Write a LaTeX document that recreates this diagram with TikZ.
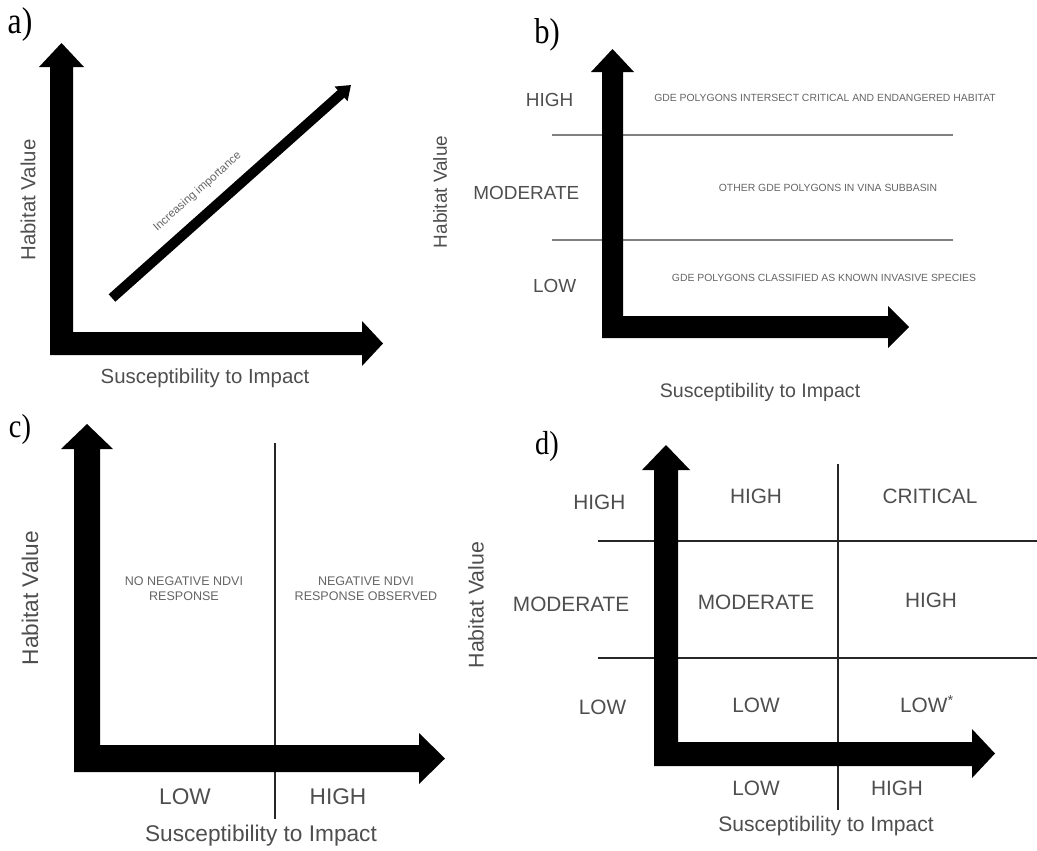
\documentclass[tikz,border=0pt]{standalone}
\usepackage{fontspec}
\setmainfont{Liberation Sans}
\newfontfamily\panelfont{Liberation Serif}
\usetikzlibrary{arrows.meta}

\definecolor{labelgray}{RGB}{78,78,78}
\definecolor{notegray}{RGB}{100,100,100}
\definecolor{gridgray}{RGB}{128,128,128}

\tikzset{bigaxis/.style={fill=black}}
\tikzset{panel/.style={xscale=0.85,font=\panelfont\fontsize{#1}{#1}\selectfont}}
\tikzset{lab/.style={text=labelgray,font=\fontsize{#1}{#1}\selectfont}}
\tikzset{note/.style={text=notegray,align=center,font=\fontsize{#1}{11.25}\selectfont}}
\tikzset{sep/.style={gridgray,line width=1pt}}
\tikzset{divider/.style={black!85,line width=0.8pt}}
\tikzset{diag/.style={line width=7.5pt,-{Triangle[length=10pt,width=14pt]}}}

\begin{document}
\begin{tikzpicture}[x=0.75pt,y=-0.75pt]
        \useasboundingbox (0,0) rectangle (1037,850);

        % panel a
        \node[panel=28] (pa) at (20,25) {a)};
        \fill[bigaxis] (50,355) -- (50,67) -- (39,67) -- (61.5,43) -- (84,67) -- (73,67) -- (73,332)
            -- (362,332) -- (362,321) -- (383,343.5) -- (362,366) -- (362,355) -- cycle;
        \coordinate (lowa) at (112,298);
        \coordinate (higha) at (351,85);
        \draw[diag] (lowa) -- (higha) node[pos=0.42,sloped,above=9pt,inner sep=0pt,text=notegray,font=\fontsize{8.6}{9}\selectfont] (inc) {Increasing importance};
        \node[lab=15.3,rotate=90] (hva) at (28,200) {Habitat Value};
        \node[lab=15.3] (sia) at (205,378) {Susceptibility to Impact};

        % panel b
        \node[panel=27] (pb) at (547,35) {b)};
        \draw[sep] (552,135) -- (953,135);
        \draw[sep] (552,240) -- (953,240);
        \fill[bigaxis] (602,338) -- (602,72) -- (591,72) -- (612.5,49) -- (634,72) -- (623,72) -- (623,316)
            -- (888,316) -- (888,306) -- (909,327) -- (888,348) -- (888,338) -- cycle;
        \node[lab=14.2,anchor=east] (highb) at (578,100) {HIGH};
        \node[lab=14.2,anchor=east] (modb) at (584,193) {MODERATE};
        \node[lab=14.2,anchor=east] (lowb) at (581,286) {LOW};
        \node[note=7.8] (noteb1) at (825,98) {GDE POLYGONS INTERSECT CRITICAL AND ENDANGERED HABITAT};
        \node[note=7.8] (noteb2) at (828,188) {OTHER GDE POLYGONS IN VINA SUBBASIN};
        \node[note=7.8] (noteb3) at (824,278) {GDE POLYGONS CLASSIFIED AS KNOWN INVASIVE SPECIES};
        \node[lab=14.2,rotate=90] (hvb) at (440,192) {Habitat Value};
        \node[lab=14.7] (sib) at (760,392) {Susceptibility to Impact};

        % panel c
        \node[panel=25] (pc) at (20,429) {c)};
        \draw[divider] (275,443) -- (275,819);
        \fill[bigaxis] (74,772) -- (74,449) -- (61,449) -- (87,424) -- (113,449) -- (100,449) -- (100,745)
            -- (419,745) -- (419,733) -- (445,758.5) -- (419,784) -- (419,772) -- cycle;
        \node[note=9.4] (notec1) at (184,589) {NO NEGATIVE NDVI\\RESPONSE};
        \node[note=9.4] (notec2) at (366,589) {NEGATIVE NDVI\\RESPONSE OBSERVED};
        \node[lab=17] (lowc) at (185,797) {LOW};
        \node[lab=17] (highc) at (338,797) {HIGH};
        \node[lab=17,rotate=90] (hvc) at (30,598) {Habitat Value};
        \node[lab=17] (sic) at (261,836) {Susceptibility to Impact};

        % panel d
        \node[panel=25] (pd) at (547,446) {d)};
        \draw[divider] (598,541) -- (1037,541);
        \draw[divider] (598,658) -- (1037,658);
        \draw[divider] (838,464) -- (838,810);
        \fill[bigaxis] (654,766) -- (654,470) -- (642,470) -- (666,445) -- (690,470) -- (678,470) -- (678,742)
            -- (972,742) -- (972,729) -- (995,753.5) -- (972,778) -- (972,766) -- cycle;
        \node[lab=15.6,anchor=east] (highd) at (630,502) {HIGH};
        \node[lab=15.6,anchor=east] (modd) at (634,604) {MODERATE};
        \node[lab=15.6,anchor=east] (lowd) at (631,707) {LOW};
        \node[lab=15.6] (cellhh) at (756,496) {HIGH};
        \node[lab=15.6] (cellmh) at (756,602) {MODERATE};
        \node[lab=15.6] (celllh) at (756,705) {LOW};
        \node[lab=15.6] (cellhc) at (930,496) {CRITICAL};
        \node[lab=15.6] (cellmc) at (931,600) {HIGH};
        \node[lab=15.6] (celllc) at (927,704) {LOW\textsuperscript{*}};
        \node[lab=15.6] (lowd2) at (756,788) {LOW};
        \node[lab=15.6] (highd2) at (897,788) {HIGH};
        \node[lab=16,rotate=90] (hvd) at (476,605) {Habitat Value};
        \node[lab=15.8] (sid) at (826,826) {Susceptibility to Impact};
    \end{tikzpicture}
\end{document}
